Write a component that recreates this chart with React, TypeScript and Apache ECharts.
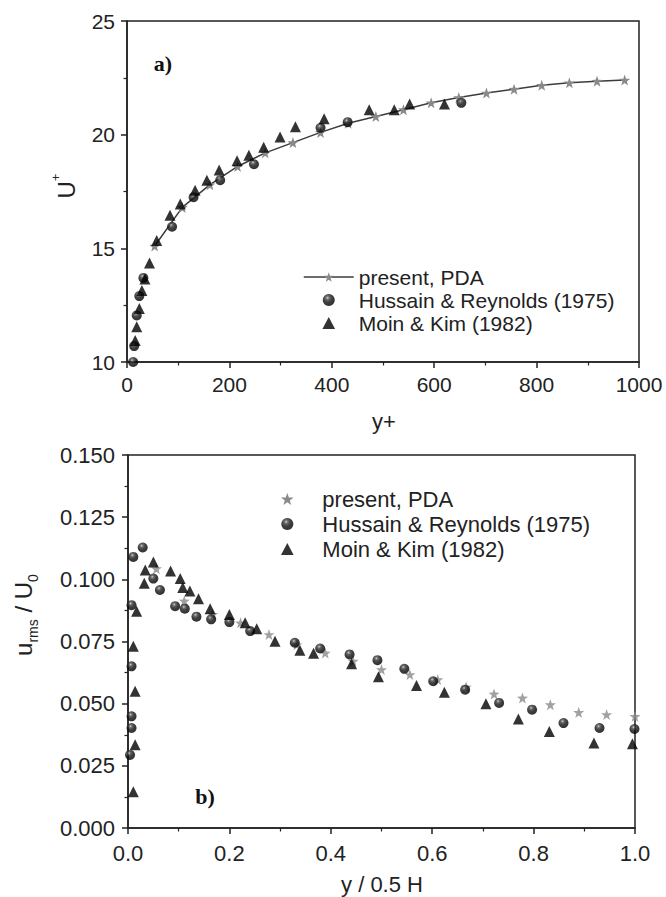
import React, { useEffect, useRef } from "react";
import * as echarts from "echarts";

// ---------- panel a) : U+ versus y+ ----------
const aPresentYPlus = [54, 108, 162, 216, 270, 324, 378, 432, 486, 540, 594, 648, 702, 756, 810, 864, 918, 972];
const aPresentU = [15.1, 16.8, 17.8, 18.6, 19.2, 19.65, 20.1, 20.5, 20.8, 21.1, 21.4, 21.63, 21.83, 22.0, 22.17, 22.28, 22.35, 22.4];
const aHussainYPlus = [12, 14, 19, 24, 32, 88, 130, 182, 248, 378, 431, 653];
const aHussainU = [10.0, 10.7, 12.05, 12.9, 13.7, 15.95, 17.25, 18.0, 18.7, 20.3, 20.55, 21.4];
const aMoinYPlus = [16, 19, 24, 29, 35, 44, 58, 84, 104, 133, 156, 180, 215, 238, 267, 299, 329, 385, 473, 522, 552, 620];
const aMoinU = [10.95, 11.55, 12.35, 13.15, 13.65, 14.35, 15.35, 16.45, 16.95, 17.55, 18.0, 18.45, 18.85, 19.1, 19.45, 19.9, 20.35, 20.7, 21.1, 21.1, 21.35, 21.35];

// ---------- panel b) : u_rms / U0 versus y / 0.5H ----------
const bPresentY = [0.056, 0.111, 0.167, 0.222, 0.278, 0.333, 0.389, 0.444, 0.5, 0.556, 0.611, 0.667, 0.722, 0.778, 0.833, 0.889, 0.944, 1.0];
const bPresentU = [0.1043, 0.0913, 0.0859, 0.0825, 0.0778, 0.0737, 0.0704, 0.0671, 0.0637, 0.0617, 0.0597, 0.0567, 0.0539, 0.0523, 0.0496, 0.0465, 0.0456, 0.0449];
const bHussainY = [0.004, 0.007, 0.007, 0.007, 0.007, 0.0105, 0.029, 0.05, 0.063, 0.093, 0.112, 0.135, 0.164, 0.2, 0.241, 0.329, 0.379, 0.437, 0.492, 0.545, 0.602, 0.665, 0.732, 0.797, 0.859, 0.93, 0.999];
const bHussainU = [0.0294, 0.0402, 0.0449, 0.065, 0.0896, 0.109, 0.1128, 0.1003, 0.0957, 0.0892, 0.0882, 0.085, 0.0839, 0.0828, 0.0792, 0.0745, 0.0722, 0.0698, 0.0675, 0.064, 0.059, 0.0556, 0.0503, 0.0476, 0.0422, 0.0402, 0.0398];
const bMoinY = [0.0105, 0.014, 0.014, 0.0105, 0.017, 0.032, 0.034, 0.05, 0.084, 0.103, 0.108, 0.122, 0.139, 0.162, 0.2, 0.231, 0.254, 0.29, 0.339, 0.366, 0.441, 0.494, 0.569, 0.624, 0.706, 0.77, 0.831, 0.919, 0.995];
const bMoinU = [0.0146, 0.0335, 0.055, 0.0731, 0.0872, 0.0984, 0.1038, 0.107, 0.1034, 0.1003, 0.0967, 0.0953, 0.0922, 0.0882, 0.0859, 0.0825, 0.0801, 0.0751, 0.0715, 0.0703, 0.0661, 0.0608, 0.0573, 0.0546, 0.05, 0.0438, 0.0388, 0.0342, 0.0339];

const seriesNames = ["present, PDA", "Hussain & Reynolds (1975)", "Moin & Kim (1982)"];

const FONT = "'Liberation Sans', Arial, Helvetica, sans-serif";
const SERIF = "'Liberation Serif', 'Times New Roman', serif";
const STAR =
  "path://M50 0L61.76 33.82L97.55 34.55L69.02 56.18L79.39 90.45L50 70L20.61 90.45L30.98 56.18L2.45 34.55L38.24 33.82Z";
const TRI = "path://M50 0L100 95L0 95Z";
const INK = "#222";

const zip = (xs: number[], ys: number[]) => xs.map((x, i) => [x, ys[i]]);

const sphere = () =>
  new echarts.graphic.RadialGradient(0.4, 0.32, 0.65, [
    { offset: 0, color: "#c8c8c8" },
    { offset: 0.22, color: "#4a4a4a" },
    { offset: 0.55, color: "#111" },
    { offset: 1, color: "#000" },
  ]);

function valueAxis(gridIndex: number, min: number, max: number, interval: number, fontSize: number, margin: number, fmt: (v: number) => string) {
  return {
    type: "value",
    gridIndex,
    min,
    max,
    interval,
    axisLine: { show: true, onZero: false, lineStyle: { color: INK, width: 1.5 } },
    axisTick: { show: true, inside: false, length: 6, lineStyle: { color: INK, width: 1.5 } },
    minorTick: { show: true, splitNumber: 2, length: 3.5, lineStyle: { color: INK, width: 1.2 } },
    splitLine: { show: false },
    minorSplitLine: { show: false },
    axisLabel: { color: INK, fontSize, fontFamily: FONT, margin, formatter: fmt },
  };
}

export default function App() {
  const ref = useRef<HTMLDivElement>(null);

  useEffect(() => {
    if (!ref.current) return;
    const chart = echarts.init(ref.current, null, { renderer: "svg" });

    const option: any = {
      animation: false,
      backgroundColor: "#fff",
      grid: [
        { left: 127, top: 21, width: 512, height: 341, show: true, borderColor: INK, borderWidth: 1.5, backgroundColor: "transparent" },
        { left: 128, top: 455, width: 507, height: 373, show: true, borderColor: INK, borderWidth: 1.5, backgroundColor: "transparent" },
      ],
      xAxis: [
        valueAxis(0, 0, 1000, 200, 21, 12, (v) => String(v)),
        valueAxis(1, 0, 1, 0.2, 22, 14, (v) => v.toFixed(1)),
      ],
      yAxis: [
        valueAxis(0, 10, 25, 5, 21, 12, (v) => String(v)),
        valueAxis(1, 0, 0.15, 0.025, 22, 13, (v) => v.toFixed(3)),
      ],
      legend: [
        {
          left: 303,
          top: 266.5,
          orient: "vertical",
          padding: 0,
          itemWidth: 50,
          itemHeight: 12,
          itemGap: 2,
          selectedMode: false,
          symbolKeepAspect: true,
          itemStyle: { borderWidth: 0 },
          lineStyle: { width: 1.5 },
          textStyle: { fontSize: 21, color: INK, fontFamily: FONT },
          data: [seriesNames[0], seriesNames[1], { name: seriesNames[2], icon: TRI }],
        },
        {
          left: 281,
          top: 488,
          orient: "vertical",
          padding: 0,
          itemWidth: 60,
          itemHeight: 12,
          itemGap: 3,
          selectedMode: false,
          symbolKeepAspect: true,
          itemStyle: { borderWidth: 0 },
          textStyle: { fontSize: 22, color: INK, fontFamily: FONT },
          data: [{ name: seriesNames[0], icon: STAR }, seriesNames[1], { name: seriesNames[2], icon: TRI }],
        },
      ],
      series: [
        {
          type: "line",
          name: seriesNames[0],
          xAxisIndex: 0,
          yAxisIndex: 0,
          data: zip(aPresentYPlus, aPresentU),
          symbol: STAR,
          symbolSize: 11,
          showSymbol: true,
          itemStyle: { color: "#8a8a8a", borderWidth: 0 },
          lineStyle: { color: "#3c3c3c", width: 1.5 },
          z: 2,
        },
        {
          type: "scatter",
          name: seriesNames[1],
          xAxisIndex: 0,
          yAxisIndex: 0,
          data: zip(aHussainYPlus, aHussainU),
          symbol: "circle",
          symbolSize: 10,
          itemStyle: { color: sphere() },
          z: 3,
        },
        {
          type: "scatter",
          name: seriesNames[2],
          xAxisIndex: 0,
          yAxisIndex: 0,
          data: zip(aMoinYPlus, aMoinU),
          symbol: "triangle",
          symbolSize: 11,
          itemStyle: { color: "#000" },
          z: 4,
        },
        {
          type: "scatter",
          name: seriesNames[0],
          xAxisIndex: 1,
          yAxisIndex: 1,
          data: zip(bPresentY, bPresentU),
          symbol: STAR,
          symbolSize: 11,
          itemStyle: { color: "#8a8a8a" },
          z: 2,
        },
        {
          type: "scatter",
          name: seriesNames[1],
          xAxisIndex: 1,
          yAxisIndex: 1,
          data: zip(bHussainY, bHussainU),
          symbol: "circle",
          symbolSize: 10,
          itemStyle: { color: sphere() },
          z: 3,
        },
        {
          type: "scatter",
          name: seriesNames[2],
          xAxisIndex: 1,
          yAxisIndex: 1,
          data: zip(bMoinY, bMoinU),
          symbol: "triangle",
          symbolSize: 11,
          itemStyle: { color: "#000" },
          z: 4,
        },
      ],
      graphic: [
        { type: "text", x: 163, y: 63, style: { text: "a)", font: `bold 22px ${SERIF}`, fill: "#111", align: "center", verticalAlign: "middle" } },
        { type: "text", x: 205, y: 796, style: { text: "b)", font: `bold 22px ${SERIF}`, fill: "#111", align: "center", verticalAlign: "middle" } },
        { type: "text", x: 384, y: 421, style: { text: "y+", fontSize: 22, fontFamily: FONT, fill: INK, align: "center", verticalAlign: "middle" } },
        { type: "text", x: 382, y: 884, style: { text: "y / 0.5 H", fontSize: 22, fontFamily: FONT, fill: INK, align: "center", verticalAlign: "middle" } },
        {
          type: "text",
          x: 66,
          y: 186,
          rotation: Math.PI / 2,
          style: {
            text: "{a|U}{p|+}",
            align: "center",
            verticalAlign: "middle",
            rich: {
              a: { fontSize: 24, fontFamily: FONT, fill: INK, lineHeight: 34 },
              p: { fontSize: 13, fontFamily: FONT, fill: INK, lineHeight: 13, verticalAlign: "top" },
            },
          },
        },
        {
          type: "text",
          x: 23,
          y: 615,
          rotation: Math.PI / 2,
          style: {
            text: "{a|u}{s|rms}{a| / U}{s|0}",
            align: "center",
            verticalAlign: "middle",
            rich: {
              a: { fontSize: 24, fontFamily: FONT, fill: INK, lineHeight: 34 },
              s: { fontSize: 14, fontFamily: FONT, fill: INK, lineHeight: 14, verticalAlign: "bottom" },
            },
          },
        },
      ],
    };

    chart.setOption(option);
    return () => chart.dispose();
  }, []);

  return (
    <div
      ref={ref}
      style={{ position: "fixed", left: 0, top: 0, width: 666, height: 897, background: "#fff" }}
    />
  );
}
